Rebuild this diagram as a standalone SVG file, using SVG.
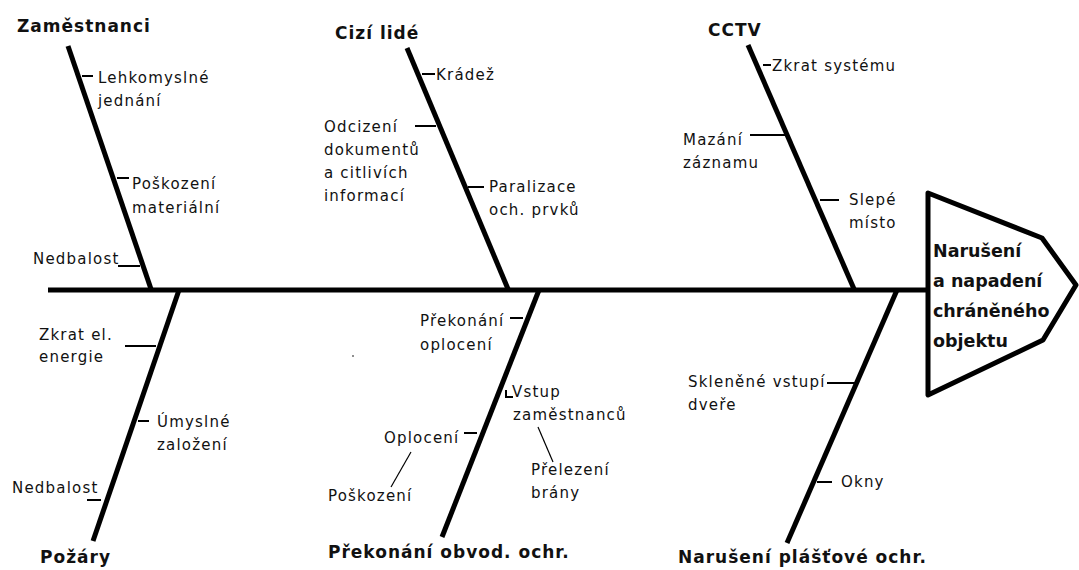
<svg xmlns="http://www.w3.org/2000/svg" width="1079" height="570" viewBox="0 0 1079 570">
<style>
.bone{stroke:#000;stroke-width:5;stroke-linecap:butt;fill:none}
.tick{stroke:#000;stroke-width:2;fill:none}
.thin{stroke:#000;stroke-width:1.2;fill:none}
.lbl{font-family:"DejaVu Sans",sans-serif;font-size:15px;letter-spacing:1.2px;fill:#111}
.ttl{font-family:"DejaVu Sans",sans-serif;font-size:17px;font-weight:bold;letter-spacing:1px;fill:#111}
.head{font-family:"DejaVu Sans",sans-serif;font-size:17.5px;font-weight:bold;fill:#111}
</style>
<rect width="1079" height="570" fill="#fff"/>
<g id="connectors">
<line class="bone" x1="48" y1="290" x2="928" y2="290"/>
<line class="bone" x1="68" y1="46" x2="151" y2="289"/>
<line class="bone" x1="407" y1="48" x2="508" y2="289"/>
<line class="bone" x1="748" y1="45" x2="854" y2="289"/>
<line class="bone" x1="179" y1="290" x2="93" y2="541"/>
<line class="bone" x1="539" y1="290" x2="442" y2="537"/>
<line class="bone" x1="897" y1="290" x2="787" y2="543"/>
</g>
<g id="head">
<polygon points="928,193 1042,238 1076,285 1043,340 928,395" fill="#fff" stroke="#000" stroke-width="5" stroke-linejoin="round"/>
<text class="head" x="933" y="257">Narušení</text>
<text class="head" x="933" y="287">a napadení</text>
<text class="head" x="933" y="317">chráněného</text>
<text class="head" x="933" y="347">objektu</text>
</g>
<g id="zamestnanci">
<text class="ttl" x="17" y="32">Zaměstnanci</text>
<line class="tick" x1="82" y1="76" x2="93" y2="76"/>
<text class="lbl" x="98" y="83">Lehkomyslné</text>
<text class="lbl" x="98" y="106">jednání</text>
<line class="tick" x1="117" y1="178" x2="129" y2="178"/>
<text class="lbl" x="132" y="189">Poškození</text>
<text class="lbl" x="132" y="213">materiální</text>
<text class="lbl" x="33" y="264">Nedbalost</text>
<line class="tick" x1="118" y1="266" x2="140" y2="266"/>
</g>
<g id="cizi-lide">
<text class="ttl" x="335" y="39">Cizí lidé</text>
<line class="tick" x1="422" y1="74" x2="435" y2="74"/>
<text class="lbl" x="436" y="80">Krádež</text>
<line class="tick" x1="415" y1="126" x2="436" y2="126"/>
<text class="lbl" x="324" y="132">Odcizení</text>
<text class="lbl" x="324" y="155">dokumentů</text>
<text class="lbl" x="324" y="178">a citlivích</text>
<text class="lbl" x="324" y="201">informací</text>
<line class="tick" x1="468" y1="187" x2="484" y2="187"/>
<text class="lbl" x="489" y="192">Paralizace</text>
<text class="lbl" x="489" y="215">och. prvků</text>
</g>
<g id="cctv">
<text class="ttl" x="708" y="36">CCTV</text>
<line class="tick" x1="763" y1="65" x2="771" y2="65"/>
<text class="lbl" x="772" y="71">Zkrat systému</text>
<line class="tick" x1="750" y1="135" x2="786" y2="135"/>
<text class="lbl" x="683" y="145">Mazání</text>
<text class="lbl" x="683" y="168">záznamu</text>
<line class="tick" x1="820" y1="200" x2="839" y2="200"/>
<text class="lbl" x="849" y="205">Slepé</text>
<text class="lbl" x="849" y="228">místo</text>
</g>
<g id="pozary">
<text class="ttl" x="40" y="563">Požáry</text>
<text class="lbl" x="39" y="340">Zkrat el.</text>
<text class="lbl" x="39" y="362">energie</text>
<line class="tick" x1="125" y1="346" x2="156" y2="346"/>
<line class="tick" x1="138" y1="421" x2="149" y2="421"/>
<text class="lbl" x="157" y="427">Úmyslné</text>
<text class="lbl" x="157" y="450">založení</text>
<text class="lbl" x="12" y="493">Nedbalost</text>
<line class="tick" x1="87" y1="500" x2="101" y2="500"/>
</g>
<g id="prekonani">
<text class="ttl" x="328" y="558">Překonání obvod. ochr.</text>
<line class="tick" x1="510" y1="318" x2="523" y2="318"/>
<text class="lbl" x="420" y="326">Překonání</text>
<text class="lbl" x="420" y="350">oplocení</text>
<polyline class="tick" points="506,390 506,397 513,397"/>
<text class="lbl" x="512" y="397">Vstup</text>
<text class="lbl" x="513" y="420">zaměstnanců</text>
<line class="thin" x1="538" y1="427" x2="553" y2="462"/>
<text class="lbl" x="531" y="475">Přelezení</text>
<text class="lbl" x="531" y="498">brány</text>
<line class="tick" x1="464" y1="433" x2="477" y2="433"/>
<text class="lbl" x="384" y="443">Oplocení</text>
<line class="thin" x1="411" y1="452" x2="391" y2="487"/>
<text class="lbl" x="328" y="501">Poškození</text>
<circle cx="353" cy="356" r="0.8" fill="#000"/>
</g>
<g id="plastova">
<text class="ttl" x="678" y="563">Narušení plášťové ochr.</text>
<line class="tick" x1="827" y1="383" x2="857" y2="383"/>
<text class="lbl" x="688" y="387">Skleněné vstupí</text>
<text class="lbl" x="688" y="410">dveře</text>
<line class="tick" x1="817" y1="482" x2="832" y2="482"/>
<text class="lbl" x="841" y="487">Okny</text>
</g>
</svg>
